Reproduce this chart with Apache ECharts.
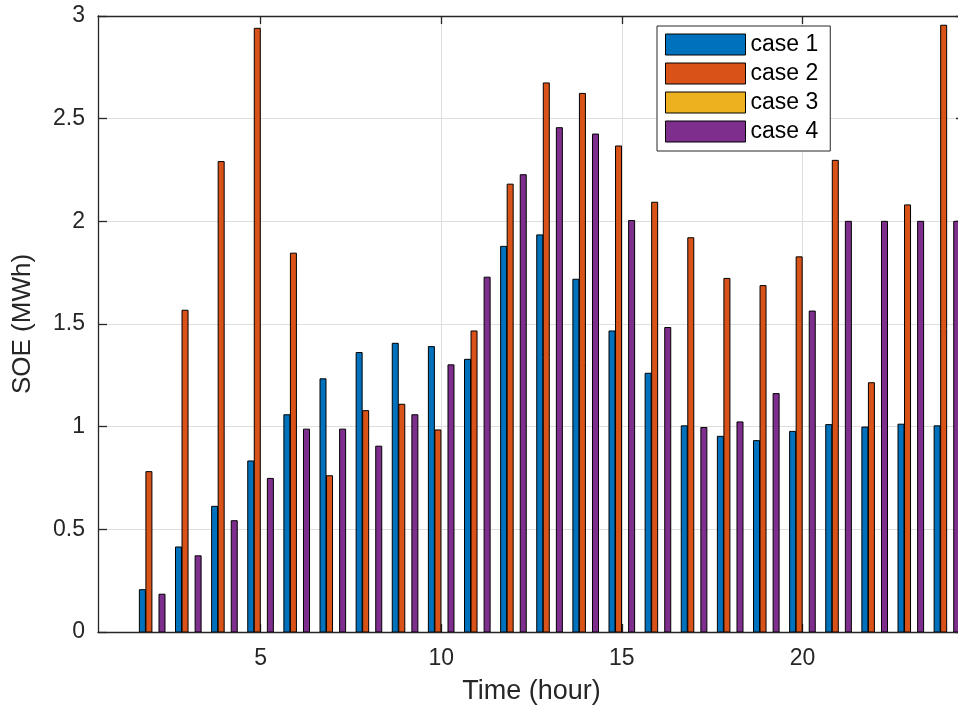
<!DOCTYPE html>
<html>
<head>
<meta charset="utf-8">
<script src="https://cdn.jsdelivr.net/npm/echarts@6/dist/echarts.min.js"></script>
<style>html,body{margin:0;padding:0;background:#fff}#c{width:958px;height:706px}</style>
</head>
<body>
<div id="c"></div>
<script>
const hours = [1,2,3,4,5,6,7,8,9,10,11,12,13,14,15,16,17,18,19,20,21,22,23,24];
const case1 = [0,0.206,0.414,0.612,0.833,1.058,1.233,1.361,1.406,1.390,1.328,1.878,1.934,1.718,1.466,1.260,1.004,0.953,0.932,0.977,1.010,0.998,1.012,1.004];
const case2 = [0,0.781,1.567,2.291,2.940,1.845,0.761,1.078,1.109,0.984,1.466,2.181,2.674,2.623,2.367,2.093,1.920,1.722,1.687,1.827,2.297,1.214,2.080,2.955];
const case3 = [0,0,0,0,0,0,0,0,0,0,0,0,0,0,0,0,0,0,0,0,0,0,0,0];
const case4 = [0,0.184,0.371,0.542,0.748,0.988,0.988,0.905,1.058,1.301,1.728,2.227,2.456,2.425,2.004,1.483,0.996,1.023,1.161,1.563,2.000,2.000,2.000,2.000];
const seriesNames = ['case 1','case 2','case 3','case 4'];
const xTicks = [5,10,15,20];

const colors = ['#0072BD','#D95319','#EDB120','#7E2F8E'];
const allCases = [case1, case2, case3, case4];
const STEP = 0.181, BW = 0.166;
const FONT = 'Liberation Sans, Arial, sans-serif';
const DARK = '#262626';

function makeRender(offset, color){
  return function(params, api){
    const v = api.value(1);
    if (!v) return null;
    const x = api.value(0) + offset;
    const p0 = api.coord([x - BW/2, v]);
    const p1 = api.coord([x + BW/2, 0]);
    return {
      type: 'rect',
      shape: {x: p0[0], y: p0[1], width: p1[0]-p0[0], height: p1[1]-p0[1]},
      style: {fill: color, stroke: '#000', lineWidth: 1}
    };
  };
}

const series = allCases.map((vals, i) => ({
  name: seriesNames[i],
  type: 'custom',
  xAxisIndex: 0, yAxisIndex: 0,
  clip: true,
  itemStyle: {color: colors[i], borderColor: '#000', borderWidth: 1},
  encode: {x: 0, y: 1},
  renderItem: makeRender((i - 1.5) * STEP, colors[i]),
  data: hours.map((h, j) => [h, vals[j]])
}));

const chart = echarts.init(document.getElementById('c'), null, {renderer: 'canvas'});
chart.setOption({
  animation: false,
  backgroundColor: '#fff',
  grid: {left: 98, top: 16, width: 867, height: 616, containLabel: false, outerBoundsMode: 'none'},
  legend: {
    orient: 'vertical',
    left: 657, top: 26,
    padding: [7, 12, 8, 8],
    itemWidth: 80, itemHeight: 21, itemGap: 6,
    selectedMode: false,
    borderColor: DARK, borderWidth: 1, backgroundColor: '#fff',
    textStyle: {fontSize: 23, lineHeight: 21, fontFamily: FONT, color: '#000'},
    data: seriesNames.map((n, i) => ({name: n, icon: 'rect', itemStyle: {color: colors[i], borderColor: '#000', borderWidth: 1}}))
  },
  xAxis: [{
    type: 'value', position: 'bottom', min: 0.5, max: 24.5,
    name: 'Time (hour)', nameLocation: 'middle', nameGap: 46,
    nameTextStyle: {fontSize: 27, fontFamily: FONT, color: DARK},
    axisLine: {show: true, onZero: false, lineStyle: {color: DARK, width: 1.3}},
    axisTick: {show: true, inside: true, length: 8, customValues: xTicks, lineStyle: {color: DARK, width: 1.3}},
    axisLabel: {show: true, customValues: xTicks, margin: 15, fontSize: 23, fontFamily: FONT, color: DARK},
    splitLine: {show: true, lineStyle: {color: '#dedede', width: 1}}
  }, {
    type: 'value', position: 'top', min: 0.5, max: 24.5,
    axisLine: {show: true, onZero: false, lineStyle: {color: DARK, width: 1.3}},
    axisTick: {show: true, inside: true, length: 8, customValues: xTicks, lineStyle: {color: DARK, width: 1.3}},
    axisLabel: {show: false},
    splitLine: {show: false}
  }],
  yAxis: [{
    type: 'value', position: 'left', min: 0, max: 3, interval: 0.5,
    name: 'SOE (MWh)', nameLocation: 'middle', nameGap: 62,
    nameTextStyle: {fontSize: 26, fontFamily: FONT, color: DARK},
    axisLine: {show: true, onZero: false, lineStyle: {color: DARK, width: 1.3}},
    axisTick: {show: true, inside: true, length: 9, lineStyle: {color: DARK, width: 1.3}},
    axisLabel: {show: true, margin: 13, fontSize: 23, fontFamily: FONT, color: DARK},
    splitLine: {show: true, lineStyle: {color: '#dedede', width: 1}}
  }, {
    type: 'value', position: 'right', min: 0, max: 3, interval: 0.5,
    axisLine: {show: true, onZero: false, lineStyle: {color: DARK, width: 1.3}},
    axisTick: {show: true, inside: true, length: 9, lineStyle: {color: DARK, width: 1.3}},
    axisLabel: {show: false},
    splitLine: {show: false}
  }],
  series: series
});
</script>
</body>
</html>
